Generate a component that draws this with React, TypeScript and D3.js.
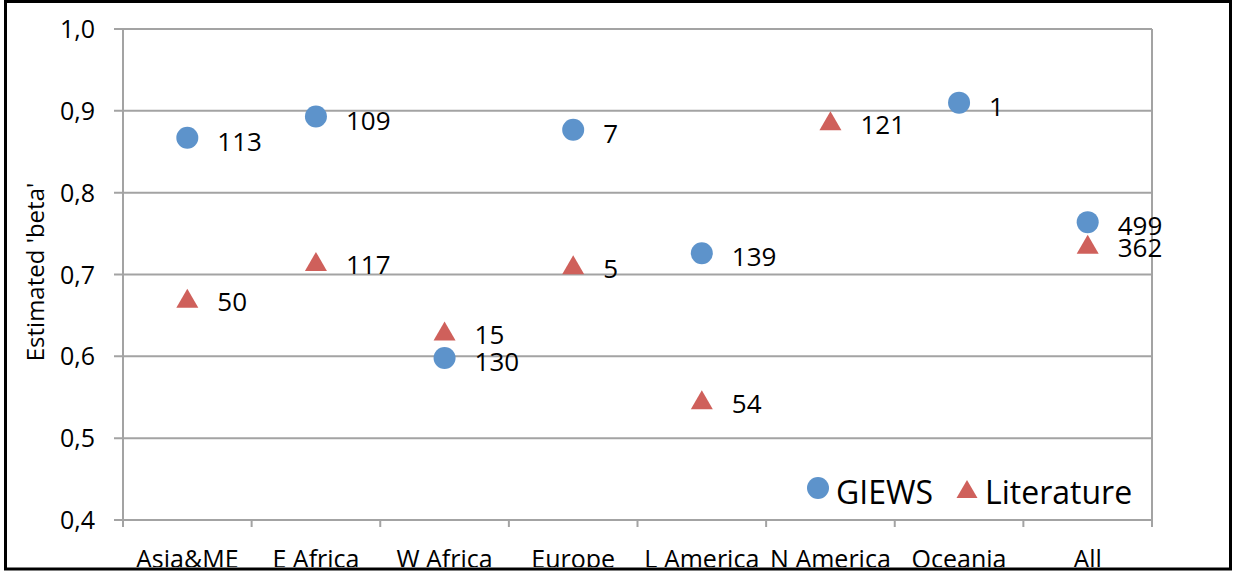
import React from 'react';
import * as d3 from 'd3';

const categories = ['Asia&ME', 'E Africa', 'W Africa', 'Europe', 'L America', 'N America', 'Oceania', 'All'];
const giewsBeta: (number | null)[] = [0.867, 0.893, 0.598, 0.877, 0.726, null, 0.91, 0.764];
const giewsN: (number | null)[] = [113, 109, 130, 7, 139, null, 1, 499];
const litBeta: (number | null)[] = [0.671, 0.716, 0.631, 0.712, 0.547, 0.888, null, 0.737];
const litN: (number | null)[] = [50, 117, 15, 5, 54, 121, null, 362];
const yTicks = [0.4, 0.5, 0.6, 0.7, 0.8, 0.9, 1.0];

const W = 1235;
const H = 572;
const FONT = '"Open Sans", sans-serif';
const BLUE = '#5D93CB';
const RED = '#CF605B';
const GRID = '#A3A3A3';

const tri = (cx: number, cy: number, w = 22, h = 19) =>
    `M${cx},${cy - h / 2}L${cx + w / 2},${cy + h / 2}L${cx - w / 2},${cy + h / 2}Z`;

export default function App() {
    const x = d3.scaleBand().domain(categories).range([123, 1152]).padding(0);
    const y = d3.scaleLinear().domain([0.4, 1.0]).range([520, 29]);
    const bw = x.bandwidth();
    const xc = (c: string) => (x(c) as number) + bw / 2;
    const bounds = d3.range(categories.length + 1).map((i) => 123 + i * bw);

    return (
        <svg width={W} height={H} style={{ position: 'absolute', left: 0, top: 0, background: '#fff' }}>
            <defs>
                <clipPath id="inner">
                    <rect x={6} y={3} width={1223} height={564} />
                </clipPath>
            </defs>
            {/* gridlines */}
            {yTicks.map((t) => (
                <line key={t} x1={114} x2={1152} y1={y(t)} y2={y(t)} stroke={GRID} strokeWidth={2} />
            ))}
            <line x1={123} x2={123} y1={y(1)} y2={520} stroke={GRID} strokeWidth={2} />
            <line x1={1152} x2={1152} y1={y(1)} y2={527} stroke={GRID} strokeWidth={2} />
            {bounds.map((b, i) => (
                <line key={i} x1={b} x2={b} y1={520} y2={527} stroke={GRID} strokeWidth={2} />
            ))}
            {/* y labels */}
            {yTicks.map((t) => (
                <text key={t} x={95} y={y(t)} dy="0.36em" textAnchor="end" fontFamily={FONT} fontSize={25} fill="#000">
                    {d3.format('.1f')(t).replace('.', ',')}
                </text>
            ))}
            <text
                transform="translate(44,272) rotate(-90)"
                textAnchor="middle"
                fontFamily={FONT}
                fontSize={24}
                fill="#000"
            >
                Estimated 'beta'
            </text>
            {/* x labels */}
            <g clipPath="url(#inner)">
                {categories.map((c) => (
                    <text key={c} x={xc(c)} y={568} textAnchor="middle" fontFamily={FONT} fontSize={25} fill="#000">
                        {c}
                    </text>
                ))}
            </g>
            {/* Literature series */}
            {categories.map((c, i) =>
                litBeta[i] == null ? null : (
                    <g key={'l' + c}>
                        <path d={tri(xc(c), y(litBeta[i] as number))} fill={RED} />
                        <text x={xc(c) + 30} y={y(litBeta[i] as number) + 3} dominantBaseline="central" fontFamily={FONT} fontSize={26} fill="#000">
                            {litN[i]}
                        </text>
                    </g>
                )
            )}
            {/* GIEWS series */}
            {categories.map((c, i) =>
                giewsBeta[i] == null ? null : (
                    <g key={'g' + c}>
                        <circle cx={xc(c)} cy={y(giewsBeta[i] as number)} r={11} fill={BLUE} />
                        <text x={xc(c) + 30} y={y(giewsBeta[i] as number) + 3} dominantBaseline="central" fontFamily={FONT} fontSize={26} fill="#000">
                            {giewsN[i]}
                        </text>
                    </g>
                )
            )}
            {/* legend */}
            <circle cx={818} cy={488} r={11} fill={BLUE} />
            <text x={836} y={491} dominantBaseline="central" fontFamily={FONT} fontSize={32} fill="#000">GIEWS</text>
            <path d={tri(967, 489, 21, 18)} fill={RED} />
            <text x={985} y={491} dominantBaseline="central" fontFamily={FONT} fontSize={32} fill="#000">Literature</text>
            {/* outer border */}
            <rect x={5.5} y={1.5} width={1225} height={567.5} fill="none" stroke="#000" strokeWidth={3} />
        </svg>
    );
}
